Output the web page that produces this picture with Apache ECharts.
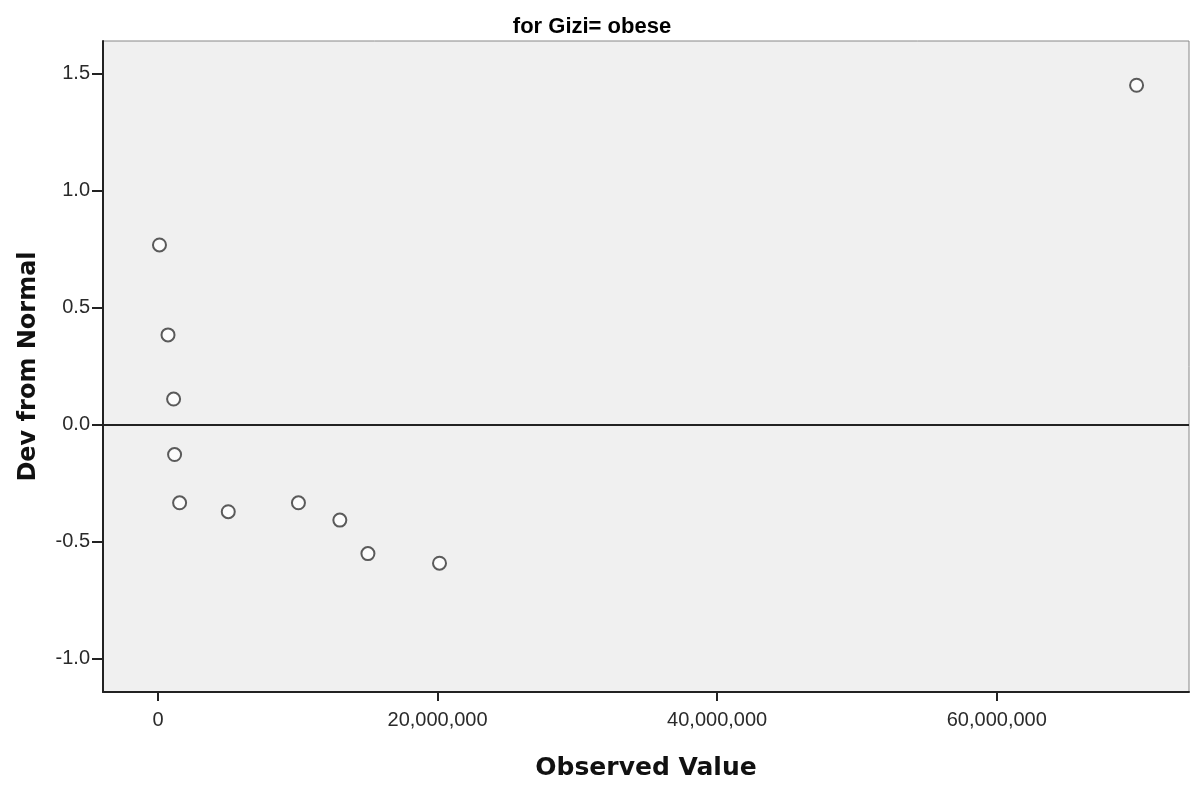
<!DOCTYPE html>
<html>
<head>
<meta charset="utf-8">
<script src="https://cdn.jsdelivr.net/npm/echarts@6/dist/echarts.min.js"></script>
<style>
  html, body { margin: 0; padding: 0; background: #fff; }
  #chart { width: 1190px; height: 785px; }
</style>
</head>
<body>
<div id="chart"></div>
<script>
// observed values and their deviation from normal
const observed = [110000, 720000, 1120000, 1190000, 1550000, 5030000, 10050000, 13010000, 15020000, 20140000, 70000000]
const deviation = [0.767, 0.383, 0.109, -0.128, -0.334, -0.372, -0.334, -0.408, -0.551, -0.592, 1.449]
const xTicks = [0, 20000000, 40000000, 60000000]
const yTicks = [-1.0, -0.5, 0.0, 0.5, 1.0, 1.5]

const chart = echarts.init(document.getElementById('chart'))
const fmtX = v => Math.round(v).toString().replace(/\B(?=(\d{3})+(?!\d))/g, ',')
const font = 'Arial, "Liberation Sans", sans-serif'
const boldFont = '"DejaVu Sans", Verdana, sans-serif'

chart.setOption({
  animation: false,
  title: {
    text: 'for Gizi= obese',
    left: 587,
    textAlign: 'center',
    top: 11,
    textStyle: { fontSize: 22, fontWeight: 'bold', color: '#000', fontFamily: font }
  },
  grid: {
    left: 103,
    right: 1,
    top: 41,
    bottom: 93,
    outerBoundsMode: 'none',
    show: true,
    backgroundColor: '#f0f0f0',
    borderColor: '#888',
    borderWidth: 1
  },
  xAxis: {
    type: 'value',
    min: -3930000,
    max: 73750000,
    name: 'Observed Value',
    nameLocation: 'middle',
    nameGap: 64,
    nameTextStyle: { fontSize: 25, fontWeight: 'bold', color: '#111', fontFamily: boldFont },
    splitLine: { show: false },
    axisLine: { show: true, onZero: false, lineStyle: { color: '#222', width: 2 } },
    axisTick: { show: true, length: 9, customValues: xTicks, lineStyle: { color: '#222', width: 2 } },
    axisLabel: {
      customValues: xTicks,
      formatter: fmtX,
      fontSize: 20,
      color: '#2a2a2a',
      margin: 18,
      fontFamily: font
    }
  },
  yAxis: {
    type: 'value',
    min: -1.142,
    max: 1.638,
    name: 'Dev from Normal',
    nameLocation: 'middle',
    nameGap: 62,
    nameTextStyle: { fontSize: 24, fontWeight: 'bold', color: '#111', fontFamily: boldFont },
    splitLine: { show: false },
    axisLine: { show: true, onZero: false, lineStyle: { color: '#222', width: 2 } },
    axisTick: { show: true, length: 11, customValues: yTicks, lineStyle: { color: '#222', width: 2 } },
    axisLabel: {
      customValues: yTicks,
      formatter: v => v.toFixed(1),
      fontSize: 20,
      color: '#2a2a2a',
      margin: 13,
      fontFamily: font
    }
  },
  series: [
    {
      type: 'scatter',
      data: observed.map((x, i) => [x, deviation[i]]),
      symbol: 'emptyCircle',
      symbolSize: 13,
      itemStyle: { color: '#333', borderColor: '#333', borderWidth: 1.8 },
      markLine: {
        silent: true,
        symbol: 'none',
        label: { show: false },
        lineStyle: { color: '#222', width: 2, type: 'solid' },
        data: [{ yAxis: 0 }]
      }
    }
  ]
})
</script>
</body>
</html>
